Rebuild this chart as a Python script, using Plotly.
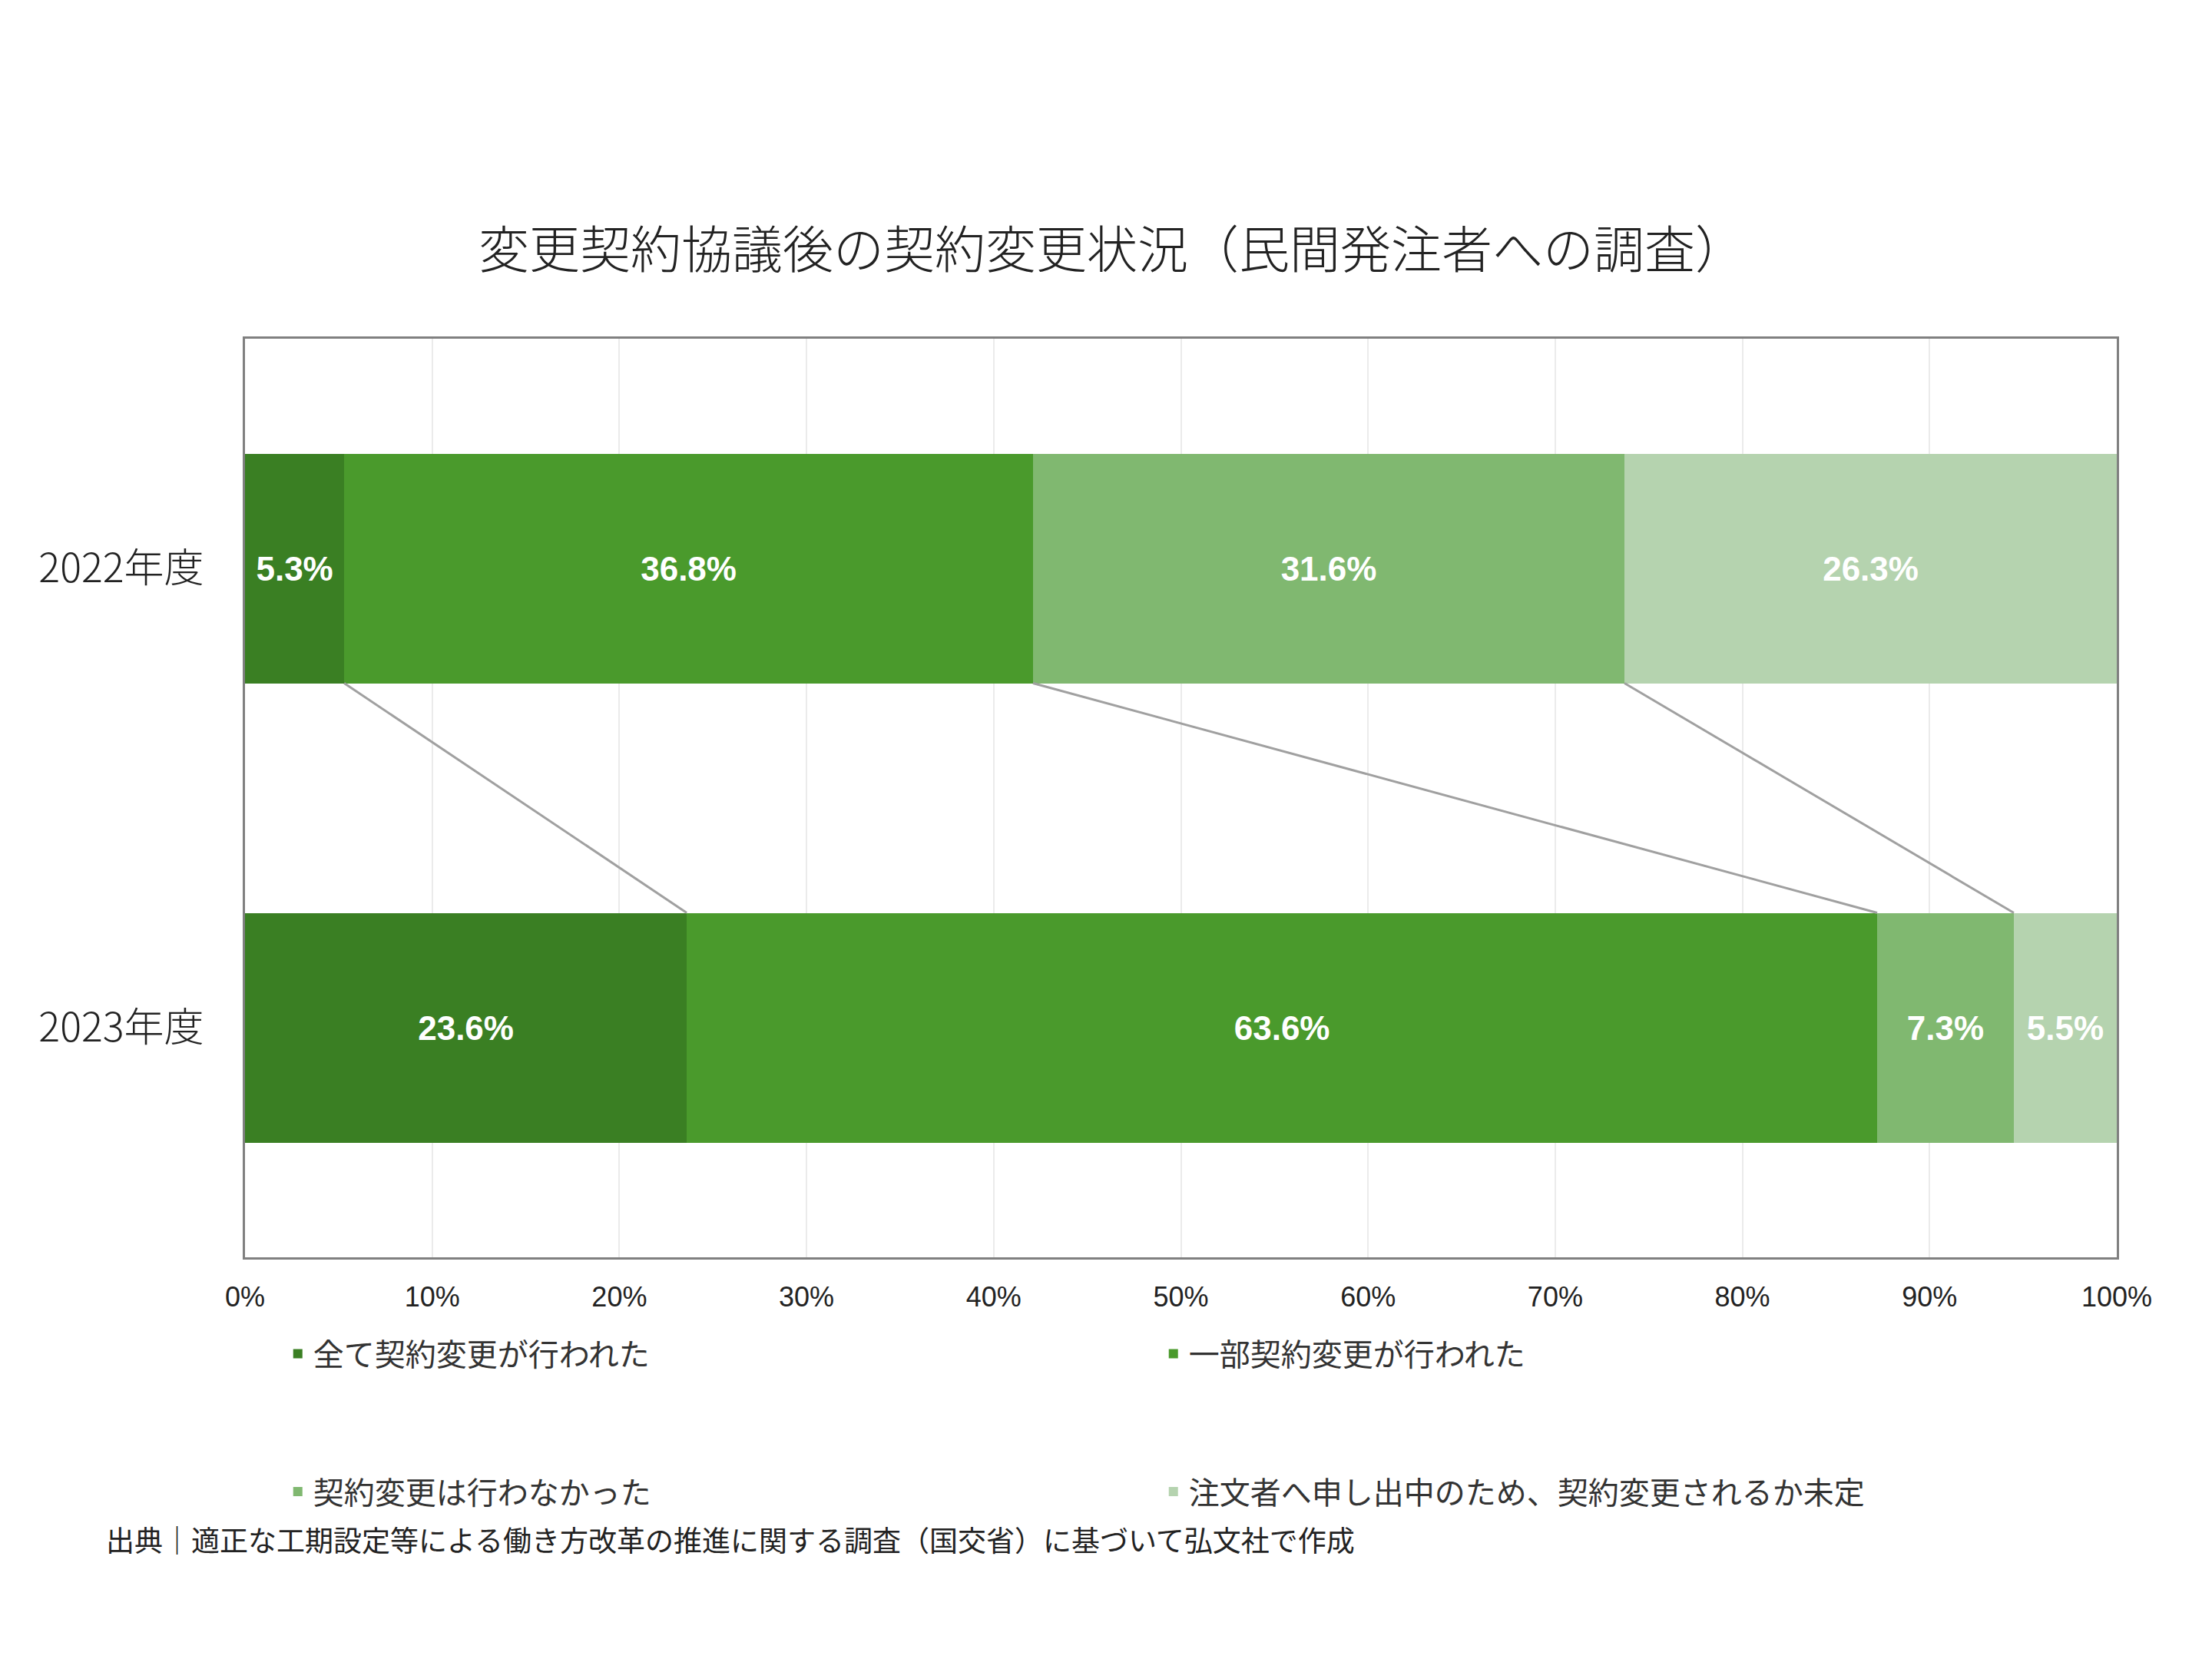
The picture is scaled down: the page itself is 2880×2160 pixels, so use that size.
import plotly.graph_objects as go

years = ["2022年度", "2023年度"]
ypos = [1, 0]
series = ["全て契約変更が行われた", "一部契約変更が行われた", "契約変更は行わなかった", "注文者へ申し出中のため、契約変更されるか未定"]
v2022 = [5.3, 36.8, 31.6, 26.3]
v2023 = [23.6, 63.6, 7.3, 5.5]
colors = ["#3a7f23", "#4a9a2c", "#80b870", "#b5d3af"]
ticks = [0, 10, 20, 30, 40, 50, 60, 70, 80, 90, 100]

F = "Noto Sans CJK JP"
fig = go.Figure()
for i, s in enumerate(series):
    vals = [v2022[i], v2023[i]]
    fig.add_trace(go.Bar(
        y=ypos, x=vals, name=s, orientation="h", width=0.5,
        legend="legend" if i < 2 else "legend2",
        marker=dict(color=colors[i], line=dict(width=0)),
        text=[f"{v:.1f}%" for v in vals], textposition="inside", insidetextanchor="middle",
        textfont=dict(family="Liberation Sans", size=44, color="white", weight="bold"),
        hoverinfo="skip"))

c22 = 0; c23 = 0
for i in range(3):
    c22 += v2022[i]; c23 += v2023[i]
    fig.add_shape(type="line", xref="x", yref="y", x0=c22, y0=0.75, x1=c23, y1=0.25,
                  line=dict(color="#a0a0a0", width=3))

leg = dict(orientation="h", x=0.02, xanchor="left", yanchor="middle",
           entrywidth=1095, entrywidthmode="pixels", traceorder="normal",
           font=dict(family=F, size=40, color="#333"), itemwidth=30)
fig.update_layout(
    width=2880, height=2160, barmode="stack", plot_bgcolor="white", paper_bgcolor="white",
    margin=dict(l=311, r=132, t=433, b=531),
    title=dict(text="変更契約協議後の契約変更状況（民間発注者への調査）", x=0.5, xanchor="center",
               y=0.853, yanchor="middle", font=dict(family=F, size=66, color="#222", weight=300)),
    xaxis=dict(range=[0, 100], tickvals=ticks, ticktext=[f"{t}%" for t in ticks],
               showgrid=True, gridcolor="#ebebeb", gridwidth=2, showline=True, linecolor="#808080",
               linewidth=3, mirror=True, tickfont=dict(family="Liberation Sans", size=36, color="#222"),
               ticks="", zeroline=False, ticklabelstandoff=18),
    yaxis=dict(range=[-0.5, 1.5], tickvals=ypos, ticktext=years, showgrid=False, showline=True,
               linecolor="#808080", linewidth=3, mirror=True, zeroline=False, ticks="",
               ticklabelstandoff=40, tickfont=dict(family=F, size=52, color="#222", weight=300)),
    legend=dict(leg, y=-0.105),
    legend2=dict(leg, y=-0.255),
    showlegend=True, bargap=0.5,
)
fig.add_annotation(text="出典｜適正な工期設定等による働き方改革の推進に関する調査（国交省）に基づいて弘文社で作成",
                   xref="paper", yref="paper", x=-0.075, xanchor="left", y=-0.307, yanchor="middle",
                   showarrow=False, font=dict(family=F, size=37, color="#222"))
fig.write_html("out.html")
